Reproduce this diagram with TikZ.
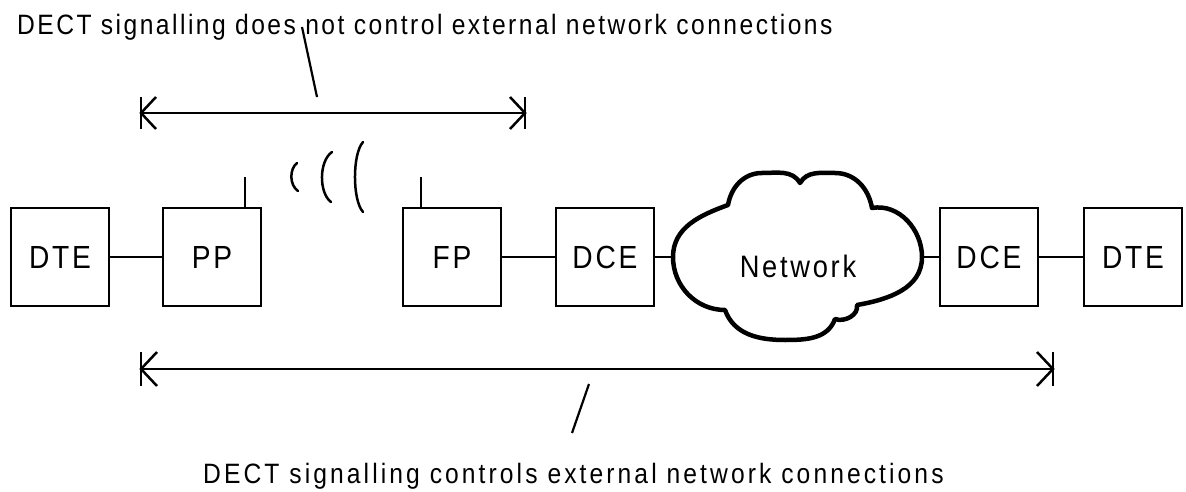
\documentclass[tikz,border=0pt]{standalone}
\usepackage{fontspec}
\setmainfont{Liberation Sans}
\newfontfamily\condfont[FakeStretch=0.88,LetterSpace=8.8]{Liberation Sans}
\newfontfamily\condwide[FakeStretch=0.88,LetterSpace=11]{Liberation Sans}
\begin{document}
\begin{tikzpicture}[x=1pt,y=1pt,
  unitbox/.style={draw,line width=2.5pt,minimum width=98pt,minimum height=98pt,inner sep=0pt,
    font=\condfont\fontsize{32}{36}\selectfont},
  wire/.style={line width=2.2pt},
  dimline/.style={line width=2.5pt},
  pointer/.style={line width=2.2pt},
  wave/.style={line width=2.5pt,line cap=round},
  cloudline/.style={line width=4.5pt,line join=round},
  caption/.style={inner sep=0pt,font=\condfont\fontsize{28}{32}\selectfont}]
\useasboundingbox (0,0) rectangle (1186,491);
% boxes
\node[unitbox] (dte1) at (60,234) {DTE};
\node[unitbox] (pp)   at (212,234) {PP};
\node[unitbox] (fp)   at (452,234) {FP};
\node[unitbox] (dce1) at (605,234) {DCE};
\node[unitbox] (dce2) at (989,234) {DCE};
\node[unitbox] (dte2) at (1133,234) {DTE};
% cloud
\coordinate (cA) at (728,286);
\coordinate (cB) at (800,308);
\coordinate (cC) at (872,283);
\coordinate (cD) at (857,186);
\coordinate (cE) at (835,172);
\coordinate (cF) at (725,181);
\coordinate (cloudL) at (673,234);
\coordinate (cloudR) at (922,234);
\draw[cloudline,fill=white] (cA) to[out=80,in=180] (762,318) to[out=0,in=120] (cB)
  to[out=60,in=180] (835,318) to[out=0,in=100] (cC)
  to[out=10,in=90] (cloudR) to[out=-90,in=10] (cD)
  to[out=-80,in=-20] (cE)
  to[out=-110,in=0] (785,151) to[out=180,in=-70] (cF)
  to[out=180,in=-90] (cloudL) to[out=90,in=200] cycle;
\node[font=\condfont\fontsize{31}{36}\selectfont,inner sep=0pt] (net) at (798,225) {Network};
% connectors
\draw[wire] (dte1.east) -- (pp.west);
\draw[wire] (fp.east) -- (dce1.west);
\draw[wire] (dce1.east) -- (cloudL);
\draw[wire] (cloudR) -- (dce2.west);
\draw[wire] (dce2.east) -- (dte2.west);
% antennas
\coordinate (ppant) at (245,314);
\coordinate (fpant) at (421,314);
\draw[wire] (ppant) -- (pp.north -| ppant);
\draw[wire] (fpant) -- (fp.north -| fpant);
% radio waves
\draw[wave] (297,328) .. controls (289.3,322) and (289.3,306) .. (298,300);
\draw[wave] (332,339) .. controls (318.8,330) and (318.8,298) .. (331,289);
\draw[wave] (363,349) .. controls (352.3,337) and (352.3,291) .. (363,279);
% top dimension
\coordinate (ta1) at (141,378);
\coordinate (ta2) at (525,378);
\draw[dimline] (ta1) -- (ta2);
\draw[dimline] ([shift={(0,16)}]ta1) -- ([shift={(0,-16)}]ta1);
\draw[dimline] ([shift={(15,16)}]ta1) -- (ta1) -- ([shift={(15,-16)}]ta1);
\draw[dimline] ([shift={(0,16)}]ta2) -- ([shift={(0,-16)}]ta2);
\draw[dimline] ([shift={(-15,16)}]ta2) -- (ta2) -- ([shift={(-15,-16)}]ta2);
% bottom dimension
\coordinate (ba1) at (141,122);
\coordinate (ba2) at (1053,122);
\draw[dimline] (ba1) -- (ba2);
\draw[dimline] ([shift={(0,17)}]ba1) -- ([shift={(0,-17)}]ba1);
\draw[dimline] ([shift={(16,17)}]ba1) -- (ba1) -- ([shift={(16,-17)}]ba1);
\draw[dimline] ([shift={(0,17)}]ba2) -- ([shift={(0,-17)}]ba2);
\draw[dimline] ([shift={(-16,17)}]ba2) -- (ba2) -- ([shift={(-16,-17)}]ba2);
% captions
\node[caption,anchor=base west] (toptxt) at (17,456)
  {DECT signalling does not control external network connections};
\node[caption,anchor=base west,font=\condwide\fontsize{28}{32}\selectfont] (bottxt) at (203,8)
  {DECT signalling controls external network connections};
\coordinate (tp1) at (302,464);
\coordinate (tp2) at (317,394);
\draw[pointer] (tp1) -- (tp2);
\coordinate (bp1) at (589,107);
\coordinate (bp2) at (572,58);
\draw[pointer] (bp1) -- (bp2);
\end{tikzpicture}
\end{document}
